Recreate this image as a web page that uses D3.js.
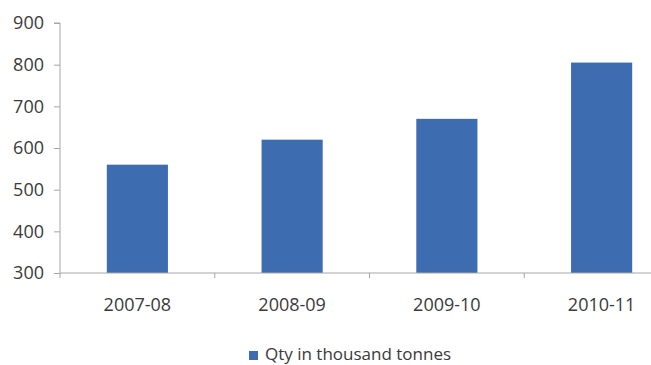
<!DOCTYPE html>
<html>
<head>
<meta charset="utf-8">
<script src="https://cdn.jsdelivr.net/npm/d3@7/dist/d3.min.js"></script>
<style>
  html, body { margin: 0; padding: 0; background: #fff; }
  svg { display: block; }
  text { font-family: "Open Sans", "Liberation Sans", sans-serif; fill: #3a3a3a; }
</style>
</head>
<body>
<svg id="chart" width="651" height="365"></svg>
<script>
// Annual quantity, thousand tonnes
const categories = ["2007-08", "2008-09", "2009-10", "2010-11"];
const quantities = [560, 620, 670, 805];
const yTicks = [300, 400, 500, 600, 700, 800, 900];
const seriesName = "Qty in thousand tonnes";

const svg = d3.select("#chart");
const barColor = "#3d6cb0";
const axisColor = "#a6a6a6";

const plot = { left: 60, right: 679, top: 23, bottom: 273 };

const x = d3.scaleBand()
  .domain(categories)
  .range([plot.left, plot.right])
  .paddingInner(0.605)
  .paddingOuter(0.3025);

const y = d3.scaleLinear()
  .domain([300, 900])
  .range([plot.bottom, plot.top]);

// Bars
svg.append("g")
  .selectAll("rect")
  .data(categories)
  .join("rect")
  .attr("x", d => x(d))
  .attr("width", x.bandwidth())
  .attr("y", (d, i) => y(quantities[i]))
  .attr("height", (d, i) => y(300) - y(quantities[i]))
  .attr("fill", barColor);

// Y axis
const yAxis = svg.append("g")
  .attr("transform", `translate(${plot.left},0)`)
  .call(d3.axisLeft(y).tickValues(yTicks).tickSize(6).tickPadding(10));
yAxis.select(".domain").attr("stroke", axisColor).attr("d", `M-6,${y(900)}H0V${y(300)}`);
yAxis.selectAll(".tick line").attr("stroke", axisColor);
yAxis.selectAll(".tick text").attr("font-size", 18).attr("fill", "#3a3a3a")
  .style("font-family", "'Open Sans', 'Liberation Sans', sans-serif");

// X axis: line with ticks at category boundaries
const xAxis = svg.append("g");
xAxis.append("line")
  .attr("x1", plot.left).attr("x2", plot.right)
  .attr("y1", y(300)).attr("y2", y(300))
  .attr("stroke", axisColor);
const half = (x.step() - x.bandwidth()) / 2;
const bounds = categories.map(c => x(c) - half).concat([x(categories[categories.length - 1]) + x.bandwidth() + half]);
xAxis.selectAll("line.b")
  .data(bounds)
  .join("line")
  .attr("class", "b")
  .attr("x1", d => d).attr("x2", d => d)
  .attr("y1", y(300)).attr("y2", y(300) + 5)
  .attr("stroke", axisColor);
xAxis.selectAll("text")
  .data(categories)
  .join("text")
  .attr("x", d => x(d) + x.bandwidth() / 2)
  .attr("y", y(300) + 38)
  .attr("text-anchor", "middle")
  .attr("font-size", 18)
  .text(d => d);

// Legend
const legend = svg.append("g").attr("transform", "translate(249,351)");
legend.append("rect").attr("width", 9).attr("height", 9).attr("fill", barColor);
legend.append("text")
  .attr("x", 16).attr("y", 9)
  .attr("font-size", 17)
  .text(seriesName);
</script>
</body>
</html>
